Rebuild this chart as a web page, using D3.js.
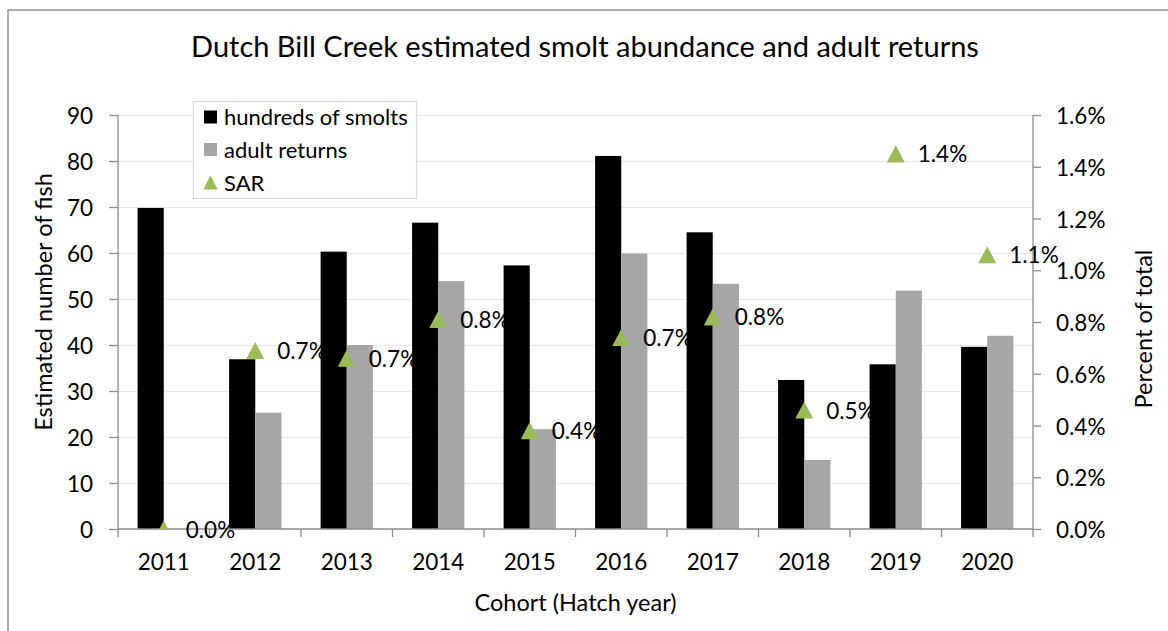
<!DOCTYPE html>
<html>
<head>
<meta charset="utf-8">
<script src="https://cdn.jsdelivr.net/npm/d3@7"></script>
<style>
  html, body { margin: 0; padding: 0; background: #fff; }
  svg { display: block; font-family: Lato, "Open Sans", sans-serif; }
</style>
</head>
<body>
<svg id="chart" width="1168" height="631"></svg>
<script>
// Cohort (hatch year) categories
const years = ["2011", "2012", "2013", "2014", "2015", "2016", "2017", "2018", "2019", "2020"];
// Hundreds of smolts per cohort
const smolts = [69.8, 36.9, 60.3, 66.6, 57.3, 81.1, 64.5, 32.4, 35.8, 39.6];
// Adult returns per cohort
const adults = [0, 25.3, 40.0, 53.9, 21.7, 59.9, 53.3, 15.0, 51.8, 42.0];
// Smolt-to-adult return rate (fraction)
const sar = [0.0, 0.0069, 0.0066, 0.0081, 0.0038, 0.0074, 0.0082, 0.0046, 0.0145, 0.0106];
const sarLabels = ["0.0%", "0.7%", "0.7%", "0.8%", "0.4%", "0.7%", "0.8%", "0.5%", "1.4%", "1.1%"];
// Axis tick values
const leftTicks = [0, 10, 20, 30, 40, 50, 60, 70, 80, 90];
const rightTicks = [0, 0.002, 0.004, 0.006, 0.008, 0.010, 0.012, 0.014, 0.016];
const seriesNames = ["hundreds of smolts", "adult returns", "SAR"];

const svg = d3.select("#chart");
const plot = { left: 118, right: 1033, top: 115, bottom: 529 };
const FS = 22.5;      // tick and data labels
const FS_AXIS = 23.5; // axis titles
const FS_LEG = 22;    // legend entries
const axisColor = "#8c8c8c";

// Chart frame
svg.append("rect")
  .attr("x", 8).attr("y", 10).attr("width", 1200).attr("height", 700)
  .attr("fill", "#fff").attr("stroke", "#999").attr("stroke-width", 1.6);

const x = d3.scaleBand().domain(years).range([plot.left, plot.right]).padding(0);
const xSub = d3.scaleBand().domain(["smolts", "adults"]).range([0, x.bandwidth()])
  .paddingInner(0).paddingOuter(0.75);
const yL = d3.scaleLinear().domain([0, 90]).range([plot.bottom, plot.top]);
const yR = d3.scaleLinear().domain([0, 0.016]).range([plot.bottom, plot.top]);

// Horizontal gridlines
svg.append("g").selectAll("line").data(leftTicks.slice(1)).join("line")
  .attr("x1", plot.left).attr("x2", plot.right)
  .attr("y1", d => yL(d) + 0.5).attr("y2", d => yL(d) + 0.5)
  .attr("stroke", "#e9e9e9").attr("stroke-width", 1.2);

// Bars
const bars = svg.append("g");
bars.selectAll("rect.smolt").data(years).join("rect").attr("class", "smolt")
  .attr("x", d => x(d) + xSub("smolts"))
  .attr("width", xSub.bandwidth())
  .attr("y", (d, i) => yL(smolts[i]))
  .attr("height", (d, i) => yL(0) - yL(smolts[i]))
  .attr("fill", "#000");
bars.selectAll("rect.adult").data(years).join("rect").attr("class", "adult")
  .attr("x", d => x(d) + xSub("adults"))
  .attr("width", xSub.bandwidth())
  .attr("y", (d, i) => yL(adults[i]))
  .attr("height", (d, i) => yL(0) - yL(adults[i]))
  .attr("fill", "#a6a6a6");

// Left axis
const gL = svg.append("g").attr("transform", `translate(${plot.left},0)`)
  .call(d3.axisLeft(yL).tickValues(leftTicks).tickSize(9).tickPadding(16).tickFormat(d3.format("d")));
// Right axis
const gR = svg.append("g").attr("transform", `translate(${plot.right},0)`)
  .call(d3.axisRight(yR).tickValues(rightTicks).tickSize(8).tickPadding(15).tickFormat(d3.format(".1%")));
// Bottom axis: labels at category centres
const gB = svg.append("g").attr("transform", `translate(0,${plot.bottom})`)
  .call(d3.axisBottom(x).tickSize(0).tickPadding(25));
// Category boundary ticks
const bounds = years.map(d => x(d)).concat([plot.right]);
gB.append("g").selectAll("line").data(bounds).join("line")
  .attr("x1", d => d).attr("x2", d => d).attr("y1", 0).attr("y2", 8)
  .attr("stroke", axisColor).attr("stroke-width", 1.3);

[gL, gR, gB].forEach(g => {
  g.selectAll(".domain").attr("stroke", axisColor).attr("stroke-width", 1.3);
  g.selectAll(".tick line").attr("stroke", axisColor).attr("stroke-width", 1.3);
  g.selectAll("text").attr("font-size", FS).attr("fill", "#000").attr("font-family", "Lato");
});
gL.selectAll(".domain").attr("d", `M0,${plot.top}V${plot.bottom}`);
gR.selectAll(".domain").attr("d", `M0,${plot.top}V${plot.bottom}`);
gB.selectAll(".domain").attr("d", `M${plot.left},0H${plot.right}`);
gL.selectAll(".tick text").attr("dy", "0.38em");
gR.selectAll(".tick text").attr("dy", "0.38em");

// Up-pointing triangle marker centred on its bounding box
const boxTriangle = {
  draw(ctx, size) {
    const w = Math.sqrt(size * 2);
    const h = w * 0.96;
    ctx.moveTo(0, -h / 2);
    ctx.lineTo(w / 2, h / 2);
    ctx.lineTo(-w / 2, h / 2);
    ctx.closePath();
  }
};

// SAR markers (clipped to the plot area)
svg.append("clipPath").attr("id", "plotClip").append("rect")
  .attr("x", plot.left).attr("y", plot.top)
  .attr("width", plot.right - plot.left).attr("height", plot.bottom - plot.top);
const cx = d => x(d) + x.bandwidth() / 2;
svg.append("g").attr("clip-path", "url(#plotClip)")
  .selectAll("path").data(years).join("path")
  .attr("d", d3.symbol().type(boxTriangle).size(160))
  .attr("transform", (d, i) => `translate(${cx(d)},${yR(sar[i])})`)
  .attr("fill", "#9bbb59");

// SAR value labels
svg.append("g").selectAll("text").data(years).join("text")
  .attr("x", d => cx(d) + 22)
  .attr("y", (d, i) => yR(sar[i]))
  .attr("dy", "0.38em")
  .attr("font-size", FS)
  .attr("fill", "#000")
  .text((d, i) => sarLabels[i]);

// Title
svg.append("text").attr("x", 585).attr("y", 57).attr("text-anchor", "middle")
  .attr("font-size", 29).attr("fill", "#000")
  .text("Dutch Bill Creek estimated smolt abundance and adult returns");

// Axis titles
svg.append("text").attr("x", (plot.left + plot.right) / 2).attr("y", 611)
  .attr("text-anchor", "middle").attr("font-size", FS_AXIS).attr("fill", "#000")
  .text("Cohort (Hatch year)");
svg.append("text").attr("transform", "translate(52,302) rotate(-90)")
  .attr("text-anchor", "middle").attr("font-size", FS_AXIS).attr("fill", "#000")
  .text("Estimated number of fish");
svg.append("text").attr("transform", "translate(1152,329) rotate(-90)")
  .attr("text-anchor", "middle").attr("font-size", FS_AXIS).attr("fill", "#000")
  .text("Percent of total");

// Legend
const lg = svg.append("g");
lg.append("rect").attr("x", 193.5).attr("y", 101.5).attr("width", 223).attr("height", 97)
  .attr("fill", "#fff").attr("stroke", "#d9d9d9").attr("stroke-width", 1.2);
const rowY = [117, 149.5, 182.5];
const keyColors = ["#000", "#a6a6a6", "#9bbb59"];
seriesNames.forEach((name, i) => {
  if (i < 2) {
    lg.append("rect").attr("x", 204).attr("y", rowY[i] - 6.5).attr("width", 13).attr("height", 13)
      .attr("fill", keyColors[i]);
  } else {
    lg.append("path").attr("d", d3.symbol().type(boxTriangle).size(105))
      .attr("transform", `translate(210.5,${rowY[i]})`).attr("fill", keyColors[i]);
  }
  lg.append("text").attr("x", 224).attr("y", rowY[i]).attr("dy", "0.38em")
    .attr("font-size", FS_LEG).attr("fill", "#000").text(name);
});
</script>
</body>
</html>
